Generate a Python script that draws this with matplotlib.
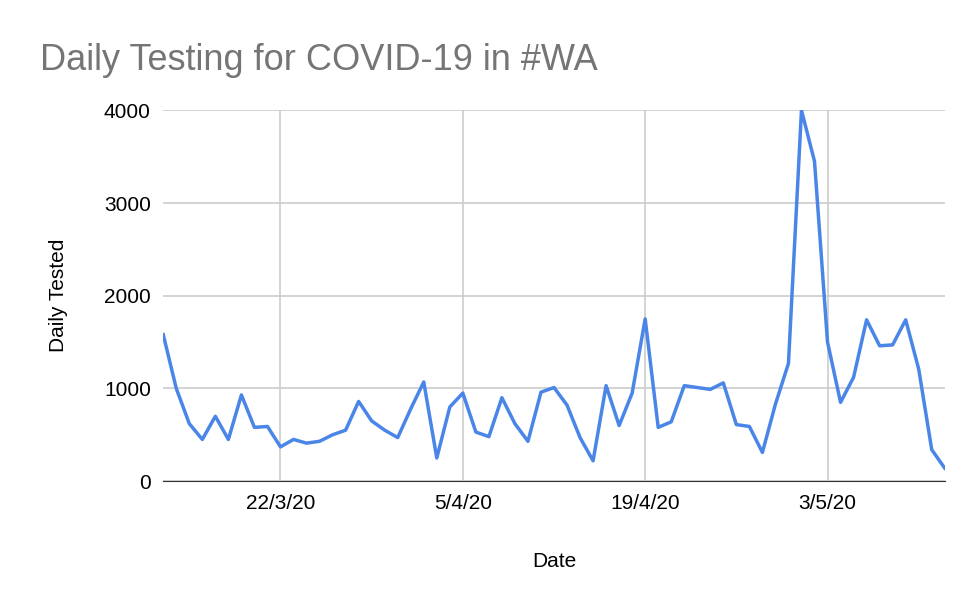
import matplotlib.pyplot as plt
import matplotlib.dates as mdates
import pandas as pd

plt.rcParams['font.family'] = ['Liberation Sans', 'DejaVu Sans']

# Daily tested counts, 13/3/20 onwards
start_date = "2020-03-13"
daily_tested = [
    1580, 1000, 620, 450, 700, 450, 930, 580, 590, 370,
    450, 410, 430, 500, 550, 860, 650, 550, 470, 780,
    1070, 250, 800, 950, 530, 480, 900, 620, 430, 960,
    1010, 820, 470, 220, 1030, 600, 950, 1750, 580, 640,
    1030, 1010, 990, 1060, 610, 590, 310, 830, 1270, 4000,
    3450, 1500, 850, 1120, 1740, 1460, 1470, 1740, 1210, 340,
    140,
]
tick_dates = ["2020-03-22", "2020-04-05", "2020-04-19", "2020-05-03"]

dates = pd.date_range(start_date, periods=len(daily_tested), freq="D")

fig = plt.figure(figsize=(9.66, 6.06), dpi=100)
ax = fig.add_axes([0.169, 0.206, 0.809, 0.612])

ax.plot(dates, daily_tested, color="#4a86e8", linewidth=2.5)

ax.set_xlim(dates[0], dates[-1])
ax.set_ylim(0, 4000)
ax.set_yticks([0, 1000, 2000, 3000, 4000])
ax.set_xticks(pd.to_datetime(tick_dates))
ax.xaxis.set_major_formatter(mdates.DateFormatter("%-d/%-m/%y"))

ax.grid(True, color="#cccccc", linewidth=1.2)
ax.set_axisbelow(True)
for s in ["top", "right", "left"]:
    ax.spines[s].set_visible(False)
ax.spines["bottom"].set_color("#333333")
ax.tick_params(length=0, labelsize=15, pad=9)

ax.set_xlabel("Date", fontsize=15, labelpad=28)
ax.set_ylabel("Daily Tested", fontsize=15, labelpad=26)
fig.text(0.041, 0.9, "Daily Testing for COVID-19 in #WA", fontsize=26,
         color="#757575", va="center")

fig.savefig("out.png", dpi=100)
